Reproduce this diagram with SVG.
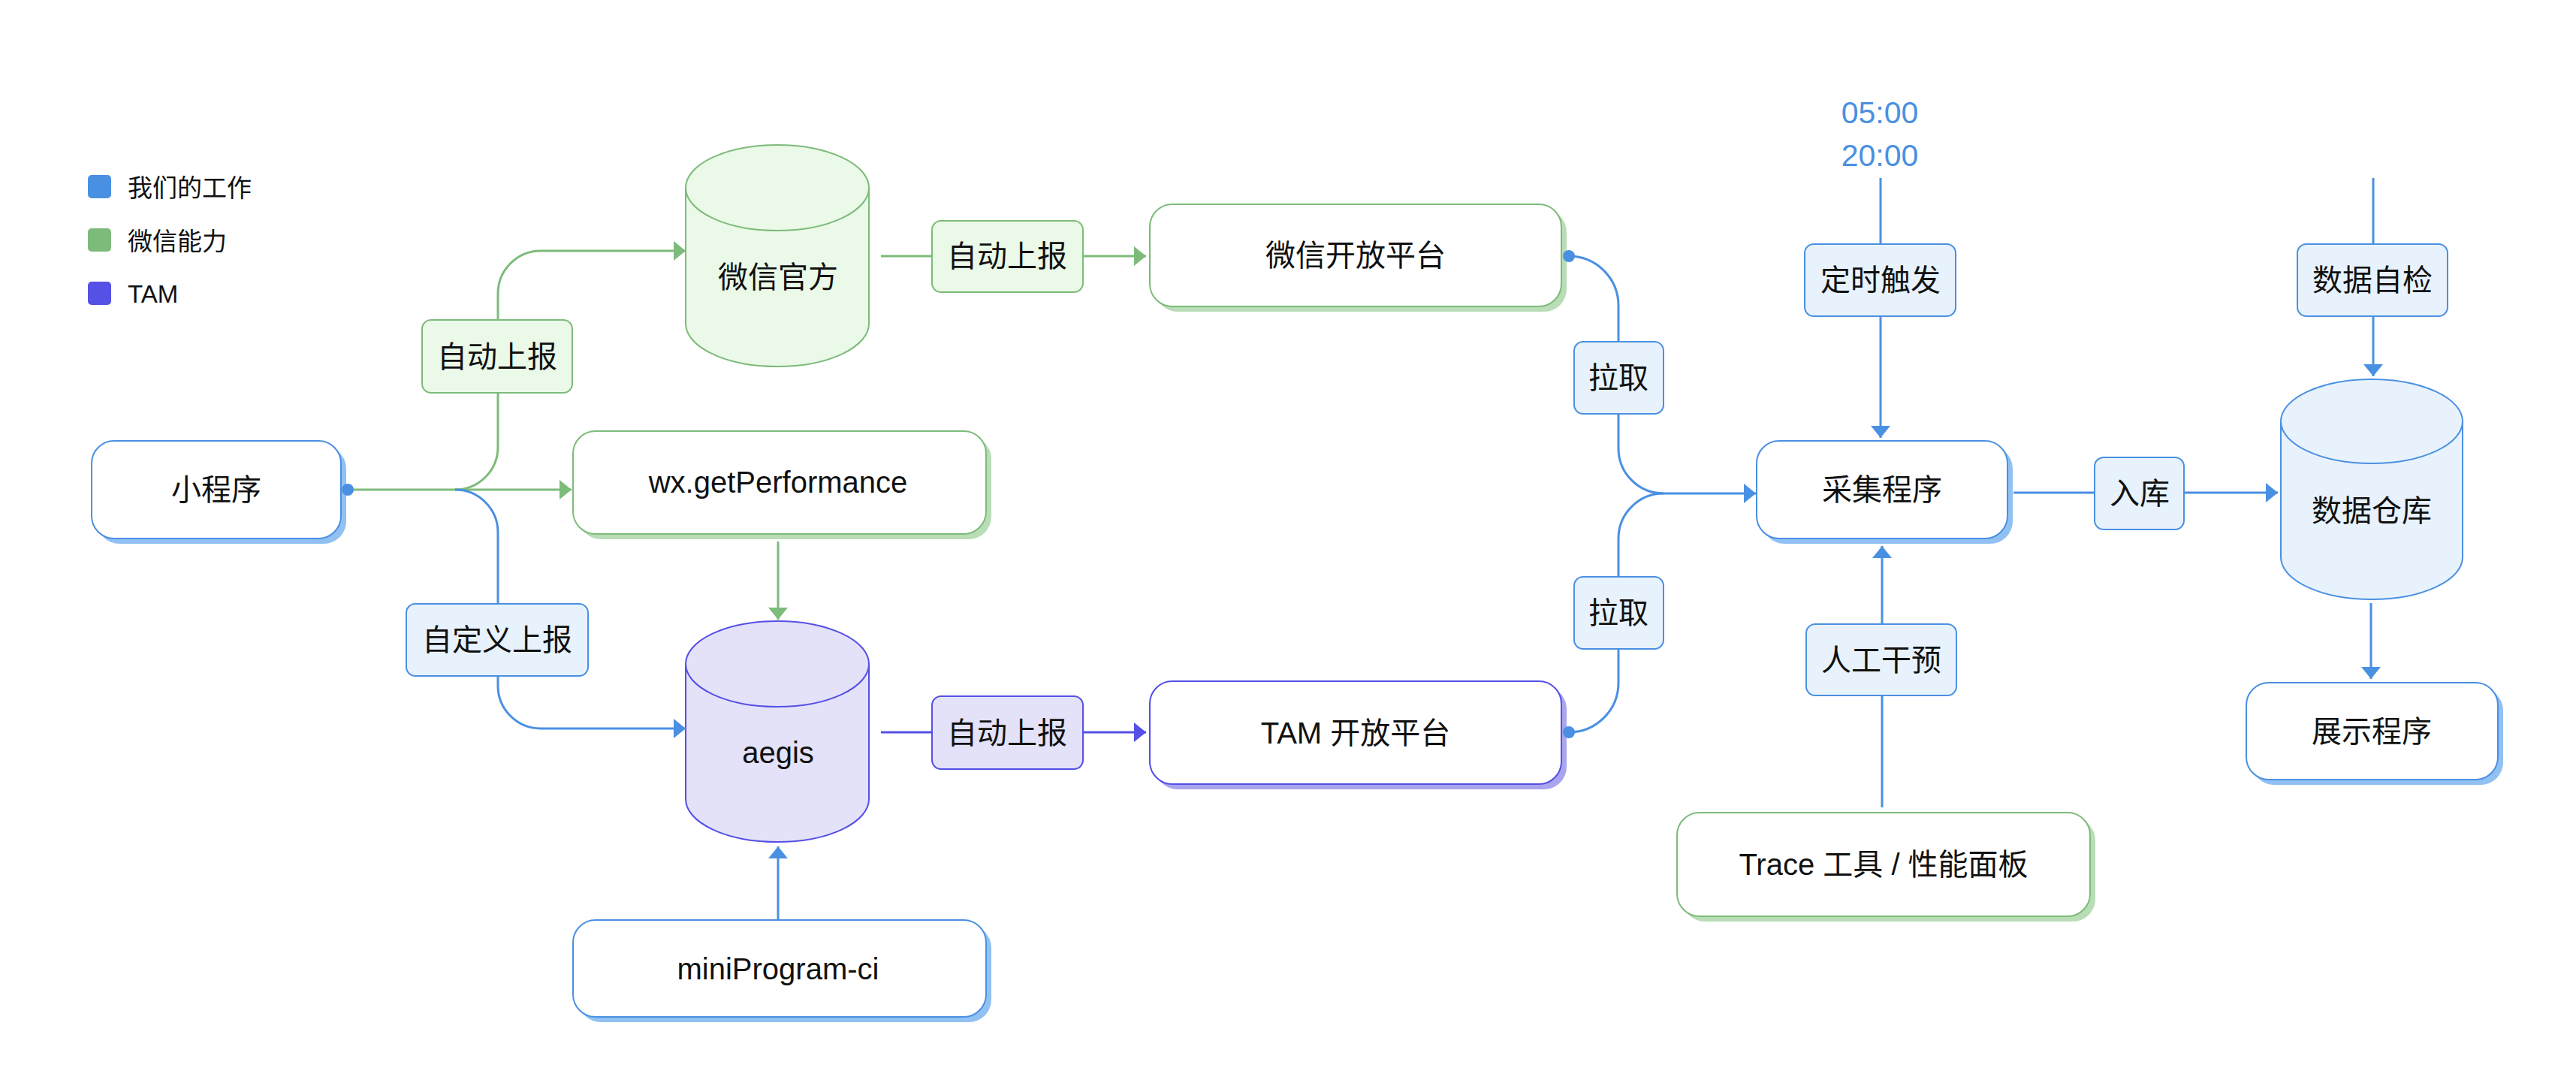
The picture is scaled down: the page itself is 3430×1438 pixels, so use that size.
<svg xmlns="http://www.w3.org/2000/svg" width="3430" height="1438" viewBox="0 0 3430 1438">
<style>
.t{font-family:"Liberation Sans","Noto Sans CJK SC",sans-serif;font-size:40px;fill:#111;text-anchor:middle}
.lg{font-family:"Liberation Sans","Noto Sans CJK SC",sans-serif;font-size:33px;fill:#111}
.time{font-family:"Liberation Sans",sans-serif;font-size:41px;fill:#4A90E2;text-anchor:middle}
.nb{fill:#fff;stroke:#4A90E2;stroke-width:2}
.ng{fill:#fff;stroke:#7DBB7A;stroke-width:2}
.np{fill:#fff;stroke:#5550E6;stroke-width:2}
.sb{fill:#91C1F3}
.sg{fill:#B9DDB6}
.sp{fill:#A9A5EE}
.lb{fill:#E8F2FC;stroke:#4A90E2;stroke-width:2}
.lgf{fill:#EAF9E8;stroke:#7DBB7A;stroke-width:2}
.lp{fill:#E4E2F8;stroke:#5550E6;stroke-width:2}
.eb{fill:none;stroke:#4A90E2;stroke-width:3}
.eg{fill:none;stroke:#7DBB7A;stroke-width:3}
.ep{fill:none;stroke:#5550E6;stroke-width:3}
</style>
<defs>
<marker id="ab" viewBox="0 0 16 26" refX="16" refY="13" markerWidth="16" markerHeight="26" markerUnits="userSpaceOnUse" orient="auto"><path d="M0,0 L16,13 L0,26 Z" fill="#4A90E2"/></marker>
<marker id="ag" viewBox="0 0 16 26" refX="16" refY="13" markerWidth="16" markerHeight="26" markerUnits="userSpaceOnUse" orient="auto"><path d="M0,0 L16,13 L0,26 Z" fill="#7DBB7A"/></marker>
<marker id="ap" viewBox="0 0 16 26" refX="16" refY="13" markerWidth="16" markerHeight="26" markerUnits="userSpaceOnUse" orient="auto"><path d="M0,0 L16,13 L0,26 Z" fill="#5550E6"/></marker>
</defs>
<rect width="3430" height="1438" fill="#fff"/>

<g id="legend">
<rect x="117" y="233" width="31" height="31" rx="5" fill="#4A90E2"/>
<text class="lg" x="170" y="262">我们的工作</text>
<rect x="117" y="304" width="31" height="31" rx="5" fill="#7DBB7A"/>
<text class="lg" x="170" y="333">微信能力</text>
<rect x="117" y="375" width="31" height="31" rx="5" fill="#5550E6"/>
<text class="lg" x="170" y="403">TAM</text>
</g>

<g id="node-miniapp">
<rect class="sb" x="129" y="594" width="332" height="130" rx="30"/>
<rect class="nb" x="122" y="587" width="332" height="130" rx="30"/>
<text class="t" x="288" y="666">小程序</text>
</g>
<g id="node-wxperf">
<rect class="sg" x="770" y="581" width="550" height="137" rx="30"/>
<rect class="ng" x="763" y="574" width="550" height="137" rx="30"/>
<text class="t" x="1036" y="656">wx.getPerformance</text>
</g>
<g id="node-wechat-official">
<path d="M913,250 A122,57 0 0 1 1157,250 L1157,431 A122,57 0 0 1 913,431 Z" fill="#EAF9E8" stroke="#7DBB7A" stroke-width="2"/>
<path d="M913,250 A122,57 0 0 0 1157,250" fill="none" stroke="#7DBB7A" stroke-width="2"/>
<text class="t" x="1036" y="383">微信官方</text>
</g>
<g id="node-aegis">
<path d="M913,884 A122,57 0 0 1 1157,884 L1157,1064 A122,57 0 0 1 913,1064 Z" fill="#E4E2F8" stroke="#5550E6" stroke-width="2"/>
<path d="M913,884 A122,57 0 0 0 1157,884" fill="none" stroke="#5550E6" stroke-width="2"/>
<text class="t" x="1036" y="1016">aegis</text>
</g>
<g id="node-ci">
<rect class="sb" x="770" y="1232" width="550" height="129" rx="30"/>
<rect class="nb" x="763" y="1225" width="550" height="129" rx="30"/>
<text class="t" x="1036" y="1304">miniProgram-ci</text>
</g>
<g id="node-wx-open">
<rect class="sg" x="1538" y="279" width="548" height="136" rx="30"/>
<rect class="ng" x="1531" y="272" width="548" height="136" rx="30"/>
<text class="t" x="1805" y="354">微信开放平台</text>
</g>
<g id="node-tam-open">
<rect class="sp" x="1538" y="914" width="548" height="137" rx="30"/>
<rect class="np" x="1531" y="907" width="548" height="137" rx="30"/>
<text class="t" x="1805" y="990">TAM 开放平台</text>
</g>
<g id="node-collector">
<rect class="sb" x="2346" y="594" width="334" height="130" rx="30"/>
<rect class="nb" x="2339" y="587" width="334" height="130" rx="30"/>
<text class="t" x="2506" y="666">采集程序</text>
</g>
<g id="node-warehouse">
<path d="M3037,561 A121,56 0 0 1 3279,561 L3279,742 A121,56 0 0 1 3037,742 Z" fill="#E8F2FC" stroke="#4A90E2" stroke-width="2"/>
<path d="M3037,561 A121,56 0 0 0 3279,561" fill="none" stroke="#4A90E2" stroke-width="2"/>
<text class="t" x="3158" y="694">数据仓库</text>
</g>
<g id="node-display">
<rect class="sb" x="2998" y="916" width="335" height="129" rx="30"/>
<rect class="nb" x="2991" y="909" width="335" height="129" rx="30"/>
<text class="t" x="3158" y="988">展示程序</text>
</g>
<g id="node-trace">
<rect class="sg" x="2240" y="1089" width="550" height="138" rx="30"/>
<rect class="ng" x="2233" y="1082" width="550" height="138" rx="30"/>
<text class="t" x="2508" y="1165">Trace 工具 / 性能面板</text>
</g>
<g id="node-time">
<text class="time" x="2503" y="164">05:00</text>
<text class="time" x="2503" y="221">20:00</text>
</g>

<g id="connectors">
<path class="eg" d="M463,652 L761,652" marker-end="url(#ag)"/>
<path class="eg" d="M606,652 A57,57 0 0 0 663,595 L663,391 A57,57 0 0 1 720,334 L913,334" marker-end="url(#ag)"/>
<path class="eb" d="M606,652 A57,57 0 0 1 663,709 L663,913 A57,57 0 0 0 720,970 L913,970" marker-end="url(#ab)"/>
<path class="eg" d="M1036,721 L1036,825" marker-end="url(#ag)"/>
<path class="eb" d="M1036,1225 L1036,1127" marker-end="url(#ab)"/>
<path class="eg" d="M1173,341 L1526,341" marker-end="url(#ag)"/>
<path class="ep" d="M1173,975 L1526,975" marker-end="url(#ap)"/>
<path class="eb" d="M2089,341 A66,66 0 0 1 2155,407 L2155,597 A60,60 0 0 0 2215,657 L2338,657" marker-end="url(#ab)"/>
<path class="eb" d="M2089,975 A66,66 0 0 0 2155,909 L2155,717 A60,60 0 0 1 2215,657"/>
<path class="eb" d="M2504,237 L2504,583" marker-end="url(#ab)"/>
<path class="eb" d="M2506,1075 L2506,727" marker-end="url(#ab)"/>
<path class="eb" d="M2681,656 L3033,656" marker-end="url(#ab)"/>
<path class="eb" d="M3160,237 L3160,501" marker-end="url(#ab)"/>
<path class="eb" d="M3157,803 L3157,904" marker-end="url(#ab)"/>
<circle cx="463" cy="652" r="8" fill="#4A90E2"/>
<circle cx="2089" cy="341" r="8" fill="#4A90E2"/>
<circle cx="2089" cy="975" r="8" fill="#4A90E2"/>
</g>

<g id="label-auto1">
<rect class="lgf" x="562" y="426" width="200" height="97" rx="12"/>
<text class="t" x="662" y="489">自动上报</text>
</g>
<g id="label-custom">
<rect class="lb" x="541" y="804" width="242" height="96" rx="12"/>
<text class="t" x="662" y="866">自定义上报</text>
</g>
<g id="label-auto2">
<rect class="lgf" x="1241" y="294" width="201" height="95" rx="12"/>
<text class="t" x="1341" y="355">自动上报</text>
</g>
<g id="label-auto3">
<rect class="lp" x="1241" y="927" width="201" height="97" rx="12"/>
<text class="t" x="1341" y="990">自动上报</text>
</g>
<g id="label-pull1">
<rect class="lb" x="2096" y="455" width="119" height="96" rx="12"/>
<text class="t" x="2155" y="517">拉取</text>
</g>
<g id="label-pull2">
<rect class="lb" x="2096" y="768" width="119" height="96" rx="12"/>
<text class="t" x="2155" y="830">拉取</text>
</g>
<g id="label-timer">
<rect class="lb" x="2403" y="325" width="201" height="96" rx="12"/>
<text class="t" x="2504" y="387">定时触发</text>
</g>
<g id="label-manual">
<rect class="lb" x="2405" y="831" width="200" height="95" rx="12"/>
<text class="t" x="2505" y="893">人工干预</text>
</g>
<g id="label-store">
<rect class="lb" x="2789" y="609" width="119" height="96" rx="12"/>
<text class="t" x="2849" y="671">入库</text>
</g>
<g id="label-check">
<rect class="lb" x="3059" y="325" width="200" height="96" rx="12"/>
<text class="t" x="3159" y="387">数据自检</text>
</g>
</svg>
